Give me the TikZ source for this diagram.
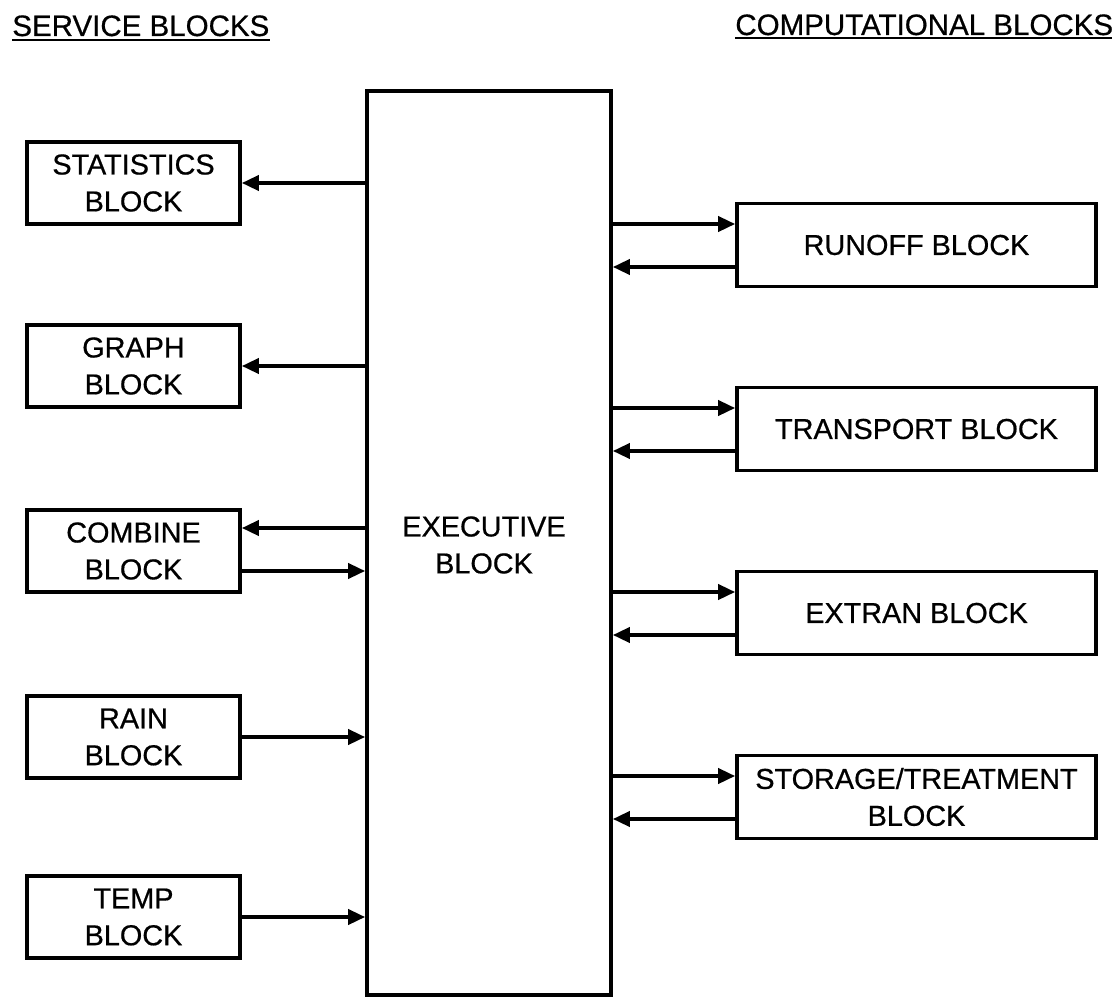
\documentclass[tikz,border=0pt]{standalone}
\usepackage{fontspec}
\setmainfont{Liberation Sans}[FakeBold=0.6]
\usetikzlibrary{arrows.meta}
\begin{document}
\begin{tikzpicture}[x=0.02cm,y=-0.02cm,
  every node/.style={font=\fontsize{16.4}{21}\selectfont},
  blk/.style={draw, line width=2.1pt, align=center, inner sep=0pt},
  lblk/.style={blk, minimum width=4.26cm, minimum height=1.64cm},
  rblk/.style={blk, minimum width=7.18cm, minimum height=1.66cm},
  title/.style={inner sep=0pt, anchor=base west, font=\fontsize{16.8}{21}\selectfont},
  uline/.style={line width=1.6pt},
  conn/.style={line width=2.1pt, -{Triangle[length=0.34cm,width=0.3cm]}}]
\useasboundingbox (0,0) rectangle (1112,997);
% titles
\node[title] (svc) at (12,36) {SERVICE BLOCKS};
\draw[uline] ([yshift=-0.08cm]svc.base west) -- ([yshift=-0.08cm]svc.base east);
\node[title] (cmp) at (735,35) {COMPUTATIONAL BLOCKS};
\draw[uline] ([yshift=-0.06cm]cmp.base west) -- ([yshift=-0.06cm]cmp.base east);
% executive
\node[blk, minimum width=4.88cm, minimum height=18.08cm] (exec) at (489,543) {};
\node[align=center, inner sep=0pt] (exectxt) at (484,545) {EXECUTIVE\\BLOCK};
% left blocks
\node[lblk] (stat) at (133.5,183) {STATISTICS\\BLOCK};
\node[lblk] (graph) at (133.5,366) {GRAPH\\BLOCK};
\node[lblk] (comb) at (133.5,551) {COMBINE\\BLOCK};
\node[lblk] (rain) at (133.5,737) {RAIN\\BLOCK};
\node[lblk] (temp) at (133.5,917) {TEMP\\BLOCK};
% right blocks
\node[rblk] (runoff) at (916.5,245) {RUNOFF BLOCK};
\node[rblk] (trans) at (916.5,429) {TRANSPORT BLOCK};
\node[rblk] (extran) at (916.5,613) {EXTRAN BLOCK};
\node[rblk] (stor) at (916.5,797) {STORAGE/TREATMENT\\BLOCK};
% left connectors
\coordinate (combA) at ([yshift=0.46cm]comb.east);
\coordinate (combB) at ([yshift=-0.40cm]comb.east);
\draw[conn] (exec.west |- stat.east) -- (stat.east);
\draw[conn] (exec.west |- graph.east) -- (graph.east);
\draw[conn] (exec.west |- combA) -- (combA);
\draw[conn] (combB) -- (exec.west |- combB);
\draw[conn] (rain.east) -- (exec.west |- rain.east);
\draw[conn] (temp.east) -- (exec.west |- temp.east);
% right connectors
\foreach \n in {runoff,trans,extran,stor}{
  \coordinate (\n A) at ([yshift=0.42cm]\n.west);
  \coordinate (\n B) at ([yshift=-0.44cm]\n.west);
  \draw[conn] (exec.east |- \n A) -- (\n A);
  \draw[conn] (\n B) -- (exec.east |- \n B);
}
\end{tikzpicture}
\end{document}
